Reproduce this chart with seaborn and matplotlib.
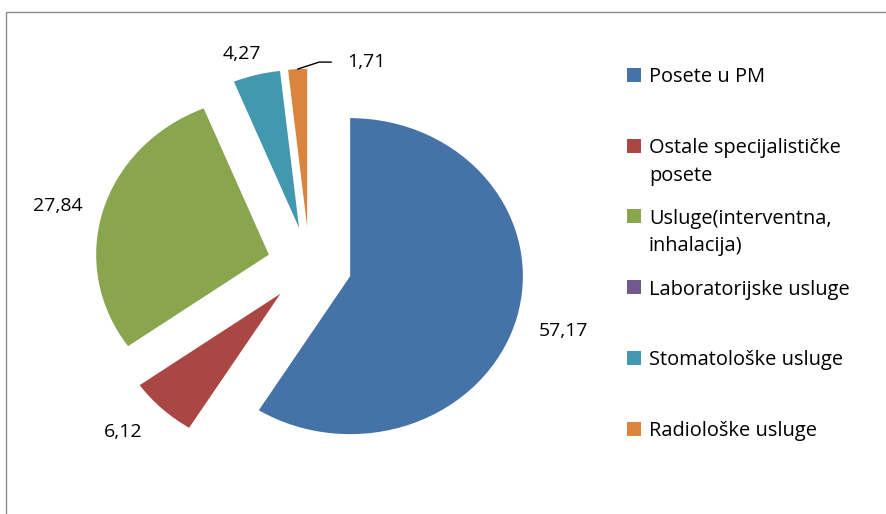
import matplotlib
matplotlib.use("Agg")
import numpy as np
import matplotlib.pyplot as plt
import seaborn as sns
from matplotlib.patches import Rectangle
from matplotlib.lines import Line2D

# ---- data ----
categories = [
    "Posete u PM",
    "Ostale specijalističke\nposete",
    "Usluge(interventna,\ninhalacija)",
    "Laboratorijske usluge",
    "Stomatološke usluge",
    "Radiološke usluge",
]
values = [57.17, 6.12, 27.84, 0.0, 4.27, 1.71]
value_labels = ["57,17", "6,12", "27,84", "", "4,27", "1,71"]
colors = ["#4572A7", "#AA4643", "#89A54E", "#71588F", "#4198AF", "#DB843D"]

sns.set_style("white")
plt.rcParams["font.family"] = ["Open Sans", "DejaVu Sans"]

W, H = 887, 514
fig = plt.figure(figsize=(W / 100, H / 100), dpi=100)

# pie centre in pixels (from top-left) and radii - the Excel pie is a bit stretched
cx, cy, rx, ry = 309.5, 265.5, 172.7, 158.0
ax = fig.add_axes([0, 0, 1, 1])
wedges, _ = ax.pie(values, colors=colors, startangle=90, counterclock=False,
                   explode=[0.245] * len(values),
                   wedgeprops=dict(linewidth=0, antialiased=True))
ax.set_aspect("auto")
ax.set_xlim(-cx / rx, (W - cx) / rx)
ax.set_ylim(-(H - cy) / ry, cy / ry)
ax.axis("off")

# data labels, offset (pixels) from the middle of each wedge's outer arc
label_offsets = [(46.8, -11), (-38.9, -23.7), (-45.5, 5), None, (-15, 21), (68.7, 7)]
for i, (w, txt, off) in enumerate(zip(wedges, value_labels, label_offsets)):
    if not txt:
        continue
    ang = np.deg2rad((w.theta1 + w.theta2) / 2)
    outer = (w.center[0] + np.cos(ang) * w.r, w.center[1] + np.sin(ang) * w.r)
    arrow = None
    if i == len(values) - 1:
        # small slice gets a leader line
        arrow = dict(arrowstyle="-", color="black", lw=1.0, shrinkA=9, shrinkB=0,
                     connectionstyle="angle,angleA=0,angleB=18,rad=0")
    ax.annotate(txt, xy=outer, xytext=off, textcoords="offset pixels",
                ha="center", va="center", fontsize=14, color="black",
                arrowprops=arrow)

# chart area border (only left and top visible)
fig.add_artist(Line2D([6.5 / W, 6.5 / W], [0, 1 - 11.5 / H], transform=fig.transFigure,
                      color="#8c8c8c", lw=1.0))
fig.add_artist(Line2D([6.5 / W, 1], [1 - 11.5 / H, 1 - 11.5 / H], transform=fig.transFigure,
                      color="#8c8c8c", lw=1.0))

# legend drawn by hand, Excel style (marker aligned to first line)
line_gap = 27.5
for i, (lab, col) in enumerate(zip(categories, colors)):
    yc = 74.7 + i * 70.8
    fig.add_artist(Rectangle((627.5 / W, 1 - (yc + 7) / H), 14 / W, 14 / H,
                             transform=fig.transFigure, color=col, lw=0))
    for j, part in enumerate(lab.split("\n")):
        fig.text(649 / W, 1 - (yc + 7.6 + j * line_gap) / H, part, ha="left",
                 va="baseline", fontsize=14.4, color="black")

fig.savefig("out.png", dpi=100)
